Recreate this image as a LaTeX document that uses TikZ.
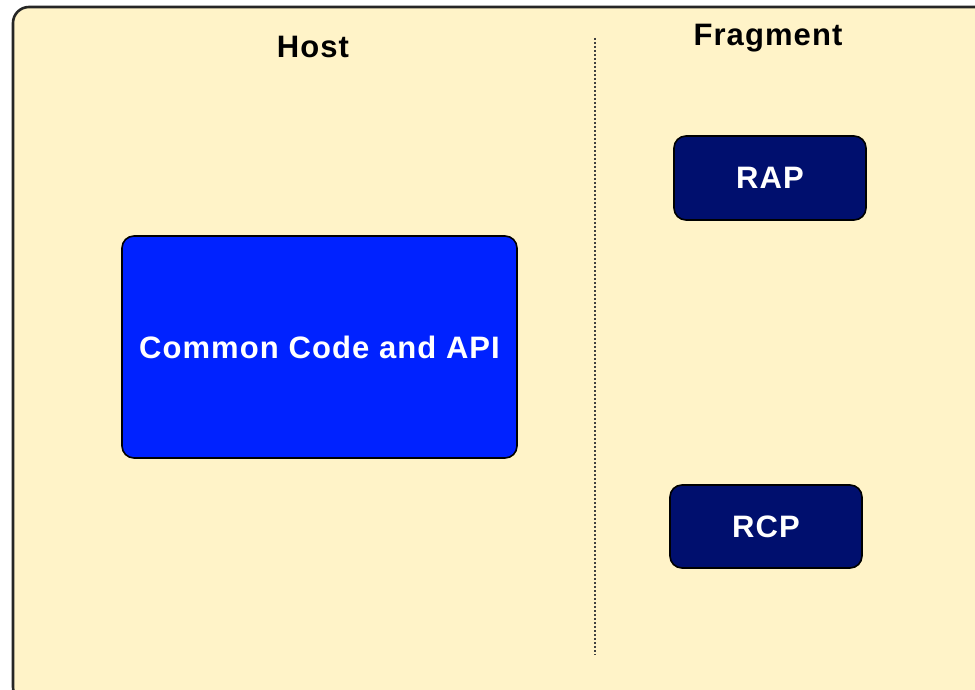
\documentclass[tikz,border=0pt]{standalone}
\usepackage{fontspec}
\setmainfont{Liberation Sans}[LetterSpace=3.5]
\definecolor{cream}{HTML}{FFF3C8}
\definecolor{brightblue}{HTML}{0022FF}
\definecolor{navy}{HTML}{000F6E}
\begin{document}
\begin{tikzpicture}[x=1pt,y=1pt,
  boxstyle/.style={draw=black, line width=1.6pt, rounded corners=12pt, text=white,
    font=\fontsize{31}{36}\selectfont\bfseries, inner sep=0pt},
  titlestyle/.style={text=black, font=\fontsize{31}{36}\selectfont\bfseries, inner sep=0pt}]
\useasboundingbox (0,0) rectangle (975,-690);
\clip (0,0) rectangle (975,-690);
\fill[white] (0,0) rectangle (975,-690);
\draw[line width=2.6pt, fill=cream, draw=black!85, rounded corners=16pt] (13,-7) rectangle (1000,-703);
\node[titlestyle] (host) at (313,-47) {Host};
\node[titlestyle] (frag) at (768,-38) {Fragment};
\coordinate (dtop) at (595,-38);
\coordinate (dbot) at (595,-655);
\draw[line width=1.3pt, black!75, dash pattern=on 2pt off 2pt] (dtop) -- (dbot);
\node[boxstyle, fill=brightblue, minimum width=395pt, minimum height=222pt] (api) at (319.5,-347) {Common Code and API};
\node[boxstyle, fill=navy, minimum width=192pt, minimum height=84pt] (rap) at (770,-178) {RAP};
\node[boxstyle, fill=navy, minimum width=192pt, minimum height=83pt] (rcp) at (766,-526.5) {RCP};
\end{tikzpicture}
\end{document}
